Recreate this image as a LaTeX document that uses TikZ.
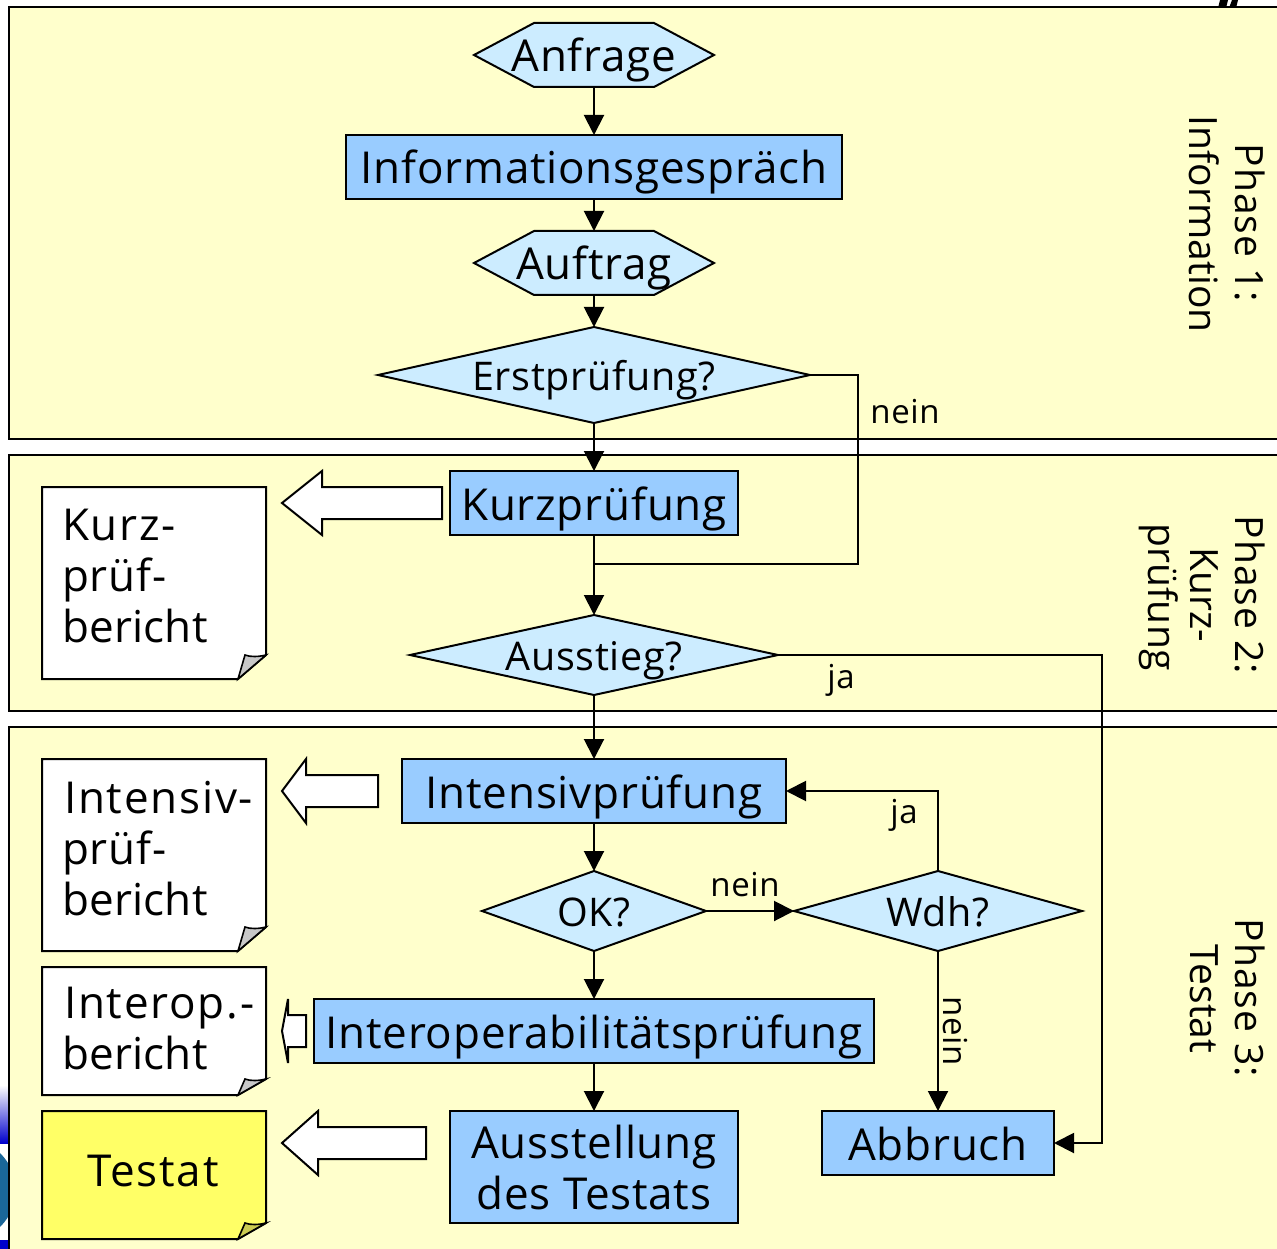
\documentclass[tikz,border=0pt]{standalone}
\usepackage{fontspec}
\setmainfont[LetterSpace=1.8]{Open Sans}
\usetikzlibrary{arrows.meta,calc}
\definecolor{panel}{HTML}{FFFFCC}
\definecolor{boxblue}{HTML}{99CCFF}
\definecolor{paleblue}{HTML}{CCECFF}
\definecolor{testat}{HTML}{FFFF66}
\definecolor{foldgray}{HTML}{C8C8C8}
\definecolor{foldyellow}{HTML}{CCCC52}
\definecolor{logoblue}{HTML}{1A6699}
\newcommand{\fbig}{\fontsize{44}{51}\selectfont}
\newcommand{\fmid}{\fontsize{39.5}{46}\selectfont}
\newcommand{\fsmall}{\fontsize{33}{38}\selectfont}
\newcommand{\tight}[1]{{\addfontfeature{LetterSpace=0.5}#1}}
\newcommand{\wide}[1]{{\addfontfeature{LetterSpace=4}#1}}
\newcommand{\hexnode}[6]{% name cx cy w h text
  \draw[shapeline,fill=paleblue] (#2-#4/2,#3) -- (#2-#4/2+60,#3-#5/2) -- (#2+#4/2-60,#3-#5/2) -- (#2+#4/2,#3) -- (#2+#4/2-60,#3+#5/2) -- (#2-#4/2+60,#3+#5/2) -- cycle;
  \node[hull,text height=34pt,text depth=0pt,minimum width=#4pt,minimum height=#5pt,font=\fbig] (#1) at (#2,#3) {#6};}
\newcommand{\diamnode}[6]{%
  \draw[shapeline,fill=paleblue] (#2-#4/2,#3) -- (#2,#3-#5/2) -- (#2+#4/2,#3) -- (#2,#3+#5/2) -- cycle;
  \node[hull,text height=30pt,text depth=0pt,minimum width=#4pt,minimum height=#5pt,font=\fmid] (#1) at (#2,#3) {#6};}
\newcommand{\docshape}[7]{% x0 y0 x1 y1 foldheight fill foldfill
  \draw[shapeline,fill=#6] (#1,#2) -- (#3,#2) -- (#3,#4-#5) -- (#3-28,#4) -- (#1,#4) -- cycle;
  \draw[shapeline,line width=1.6pt,fill=#7] (#3-28,#4) -- (#3-21,#4-#5) .. controls (#3-16,#4-#5+2) and (#3-8,#4-#5+2) .. (#3,#4-#5) -- cycle;}
\newcommand{\blockarrow}[7]{% name tipx cy basex endx halfshaft halfhead
  \draw[shapeline,fill=white] (#2,#3) -- (#4,#3-#7) -- (#4,#3-#6) -- (#5,#3-#6) -- (#5,#3+#6) -- (#4,#3+#6) -- (#4,#3+#7) -- cycle;
  \coordinate (#1) at (#2,#3);}
\tikzset{
  shapeline/.style={draw=black,line width=2pt,line join=miter},
  hull/.style={rectangle,inner sep=0pt,outer sep=0pt,align=center,text=black},
  procbox/.style={rectangle,draw=black,line width=2pt,fill=boxblue,inner sep=0pt,outer sep=0pt,align=center,font=\fbig},
  oneline/.style={text height=34pt,text depth=0pt},
  doctext/.style={anchor=north west,inner sep=0pt,align=left,font=\fbig},
  conn/.style={draw=black,line width=2pt},
  arr/.style={conn,-{Triangle[length=20pt,width=20pt]}},
  lab/.style={inner sep=0pt,font=\fsmall},
  phase/.style={inner sep=0pt,rotate=-90,align=center,font=\fontsize{39}{46}\selectfont\addfontfeature{LetterSpace=0.3}},
  phasewide/.style={phase,font=\fontsize{39}{46}\selectfont\addfontfeature{LetterSpace=2.5}},
  panelbox/.style={draw=black,line width=2pt,fill=panel}
}
\begin{document}
\begin{tikzpicture}[x=1pt,y=-1pt]
\path[clip] (0,0) rectangle (1277,1249);
\fill[white] (0,0) rectangle (1277,1249);
% slide remains behind the panels
\fill[black] (1220,0) -- (1228,0) -- (1226,8) -- (1218,8) -- cycle;
\fill[black] (1232,0) -- (1238,0) -- (1236,8) -- (1229,8) -- cycle;
\shade[top color=white,bottom color=blue!80!black] (0,1085) rectangle (9,1143);
\fill[blue!80!black] (0,1240) rectangle (9,1249);
\fill[logoblue] (-36,1190) circle (51.6);
% phase panels
\path[panelbox] (9,7) rectangle (1290,439);
\path[panelbox] (9,455) rectangle (1290,711);
\path[panelbox] (9,727) rectangle (1290,1262);
% phase labels
\node[phasewide] (ph1a) at (1250,223) {Phase 1:};
\node[phase] (ph1b) at (1204,224) {Information};
\node[phasewide] (ph2a) at (1250,595) {Phase 2:};
\node[phase] (ph2b) at (1204,595) {Kurz-};
\node[phase] (ph2c) at (1159,597) {prüfung};
\node[phasewide] (ph3a) at (1250,998) {Phase 3:};
\node[phase] (ph3b) at (1204,999) {Testat};
% flow shapes
\hexnode{anf}{594}{55}{240}{64}{Anfrage}
\node[procbox,oneline,minimum width=496pt,minimum height=64pt] (info) at (594,167) {Informationsgespräch};
\hexnode{auf}{594}{263}{240}{64}{Auftrag}
\diamnode{erst}{594}{375}{432}{96}{Erstprüfung?}
\node[procbox,oneline,minimum width=288pt,minimum height=64pt] (kurz) at (594,503) {Kurzprüfung};
\diamnode{aus}{594}{655}{368}{80}{Ausstieg?}
\node[procbox,oneline,minimum width=384pt,minimum height=64pt] (int) at (594,791) {Intensivprüfung};
\diamnode{ok}{594}{911}{224}{80}{OK?}
\diamnode{wdh}{938}{911}{288}{80}{Wdh?}
\node[procbox,oneline,minimum width=560pt,minimum height=64pt] (iop) at (594,1031) {Interoperabilitätsprüfung};
\node[procbox,minimum width=288pt,minimum height=112pt] (ausst) at (594,1167) {Ausstellung\\des Testats};
\node[procbox,oneline,minimum width=232pt,minimum height=64pt] (abb) at (938,1143) {Abbruch};
% documents
\docshape{42}{487}{266}{679}{24}{white}{foldgray}
\node[doctext] (d1t) at (62,509) {\wide{Kurz-}\\prüf-\\\tight{bericht}};
\docshape{42}{759}{266}{951}{24}{white}{foldgray}
\node[doctext] (d2t) at (62,781) {\wide{\hspace{2pt}Intensiv-}\\prüf-\\\tight{bericht}};
\docshape{42}{967}{266}{1095}{16}{white}{foldgray}
\node[doctext] (d3t) at (62,987) {\wide{\hspace{2pt}Interop.-}\\\tight{bericht}};
\docshape{42}{1111}{266}{1239}{16}{testat}{foldyellow}
\node[inner sep=0pt,font=\fbig] (d4t) at (153,1171) {\wide{Testat}};
% block arrows
\blockarrow{b1}{282}{503}{322}{442}{16}{32}
\blockarrow{b2}{282}{791}{306}{378}{16}{32}
\blockarrow{b3}{282}{1031}{288}{306}{16}{32}
\blockarrow{b4}{282}{1143}{318}{426}{16}{32}
% connectors
\draw[arr] (anf.south) -- (info.north);
\draw[arr] (info.south) -- (auf.north);
\draw[arr] (auf.south) -- (erst.north);
\draw[arr] (erst.south) -- (kurz.north);
\draw[arr] (kurz.south) -- (aus.north);
\coordinate (join) at (594,564);
\draw[conn] (erst.east) -| (858,564) -- (join);
\draw[arr] (aus.south) -- (int.north);
\draw[arr] (int.south) -- (ok.north);
\draw[arr] (ok.south) -- (iop.north);
\draw[arr] (iop.south) -- (ausst.north);
\draw[arr] (ok.east) -- (wdh.west);
\draw[arr] (wdh.north) |- (int.east);
\draw[arr] (wdh.south) -- (abb.north);
\draw[arr] (aus.east) -- (1102,655) |- (abb.east);
% labels
\node[lab] (l1) at (905,412) {nein};
\node[lab] (l2) at (841,680) {ja};
\node[lab] (l3) at (904,815) {ja};
\node[lab] (l4) at (745,885) {nein};
\node[lab,rotate=-90] (l5) at (955,1031) {nein};
\end{tikzpicture}
\end{document}
